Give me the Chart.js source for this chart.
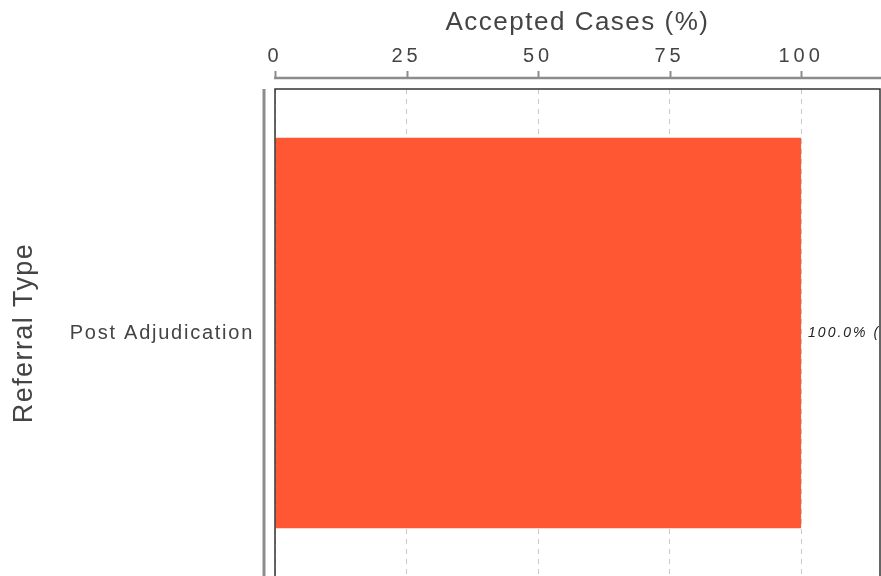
<!DOCTYPE html>
<html>
<head>
<meta charset="utf-8">
<script src="https://cdn.jsdelivr.net/npm/chart.js@4.4.1/dist/chart.umd.min.js"></script>
<style>
  html, body { margin: 0; padding: 0; background: #ffffff; overflow: hidden; }
  #wrap { position: relative; width: 881px; height: 610px; }
  #c { display: block; width: 881px; height: 610px; }
</style>
</head>
<body>
<div id="wrap"><canvas id="c" width="881" height="610"></canvas></div>
<script>
// ---- data ----
const categories = ['Post Adjudication'];
const acceptedPct = [100];
const barLabels = ['100.0% (1)'];
const xTicks = [0, 25, 50, 75, 100];
const xMin = 0;
const xMax = 115;
const xTitle = 'Accepted Cases (%)';
const yTitle = 'Referral Type';

const FONT = "'Liberation Sans', Arial, Helvetica, sans-serif";
const TEXT = '#444444';

function withSpacing(scale, method, ls) {
  const orig = scale[method];
  if (orig.__wrapped) return;
  const fn = function (...args) {
    const ctx = this.ctx;
    const prev = ctx.letterSpacing;
    ctx.letterSpacing = ls;
    const r = orig.apply(this, args);
    ctx.letterSpacing = prev || '0px';
    return r;
  };
  fn.__wrapped = true;
  scale[method] = fn;
}

const spacingPlugin = {
  id: 'spacing',
  beforeDraw(chart) {
    withSpacing(chart.scales.x, 'drawLabels', '4px');
    withSpacing(chart.scales.x, 'drawTitle', '1.5px');
    withSpacing(chart.scales.y, 'drawLabels', '1.75px');
    withSpacing(chart.scales.y, 'drawTitle', '1.4px');
  }
};

const framePlugin = {
  id: 'frame',
  afterDraw(chart) {
    const ctx = chart.ctx;
    const a = chart.chartArea;
    const xs = chart.scales.x;
    ctx.save();
    // x axis line above the plot
    const axY = a.top - 11;
    ctx.strokeStyle = '#8c8c8c';
    ctx.lineWidth = 2.5;
    ctx.beginPath();
    ctx.moveTo(a.left - 1, axY);
    ctx.lineTo(chart.width, axY);
    ctx.stroke();
    // tick marks
    ctx.lineWidth = 2;
    xTicks.forEach(v => {
      const px = Math.round(xs.getPixelForValue(v)) + 0.5;
      ctx.beginPath();
      ctx.moveTo(px, axY);
      ctx.lineTo(px, axY - 7);
      ctx.stroke();
    });
    // y axis line left of the plot
    ctx.lineWidth = 3;
    ctx.beginPath();
    ctx.moveTo(a.left - 11, a.top);
    ctx.lineTo(a.left - 11, chart.height);
    ctx.stroke();
    // plot border
    ctx.strokeStyle = '#333333';
    ctx.lineWidth = 1.5;
    ctx.strokeRect(a.left, a.top, a.right - a.left, a.bottom - a.top);
    // value labels, clipped to plot area
    ctx.beginPath();
    ctx.rect(a.left, a.top, a.right - a.left, a.bottom - a.top);
    ctx.clip();
    const meta = chart.getDatasetMeta(0);
    ctx.letterSpacing = '2px';
    ctx.fillStyle = '#222222';
    ctx.font = 'italic 14px ' + FONT;
    ctx.textAlign = 'left';
    ctx.textBaseline = 'middle';
    meta.data.forEach((bar, i) => {
      ctx.fillText(barLabels[i], bar.x + 7, bar.y);
    });
    ctx.restore();
  }
};

new Chart(document.getElementById('c'), {
  type: 'bar',
  data: {
    labels: categories,
    datasets: [{
      data: acceptedPct,
      backgroundColor: '#FF5733',
      borderWidth: 0,
      categoryPercentage: 0.8,
      barPercentage: 1.0
    }]
  },
  options: {
    indexAxis: 'y',
    responsive: false,
    maintainAspectRatio: false,
    animation: false,
    events: [],
    layout: { padding: { left: 0, right: 1, top: 0, bottom: 0 } },
    plugins: { legend: { display: false }, tooltip: { enabled: false } },
    scales: {
      x: {
        type: 'linear',
        position: 'top',
        min: xMin,
        max: xMax,
        afterBuildTicks: s => { s.ticks = xTicks.map(v => ({ value: v })); },
        afterFit: s => { s.height = 89; },
        ticks: {
          color: TEXT,
          font: { family: FONT, size: 20 },
          padding: 21,
          maxRotation: 0
        },
        grid: {
          display: true,
          drawTicks: false,
          color: '#c8c8c8',
          lineWidth: 1
        },
        border: { display: false, dash: [5, 5] },
        title: {
          display: true,
          text: xTitle,
          color: TEXT,
          font: { family: FONT, size: 26 },
          padding: { top: 7, bottom: 0 }
        }
      },
      y: {
        type: 'category',
        position: 'left',
        afterFit: s => { s.width = 275; },
        ticks: {
          color: TEXT,
          font: { family: FONT, size: 20 },
          padding: 21
        },
        grid: { display: false, drawTicks: false },
        border: { display: false },
        title: {
          display: true,
          text: yTitle,
          color: TEXT,
          font: { family: FONT, size: 27 },
          padding: { top: 8, bottom: 0 }
        }
      }
    }
  },
  plugins: [spacingPlugin, framePlugin]
});
</script>
</body>
</html>
